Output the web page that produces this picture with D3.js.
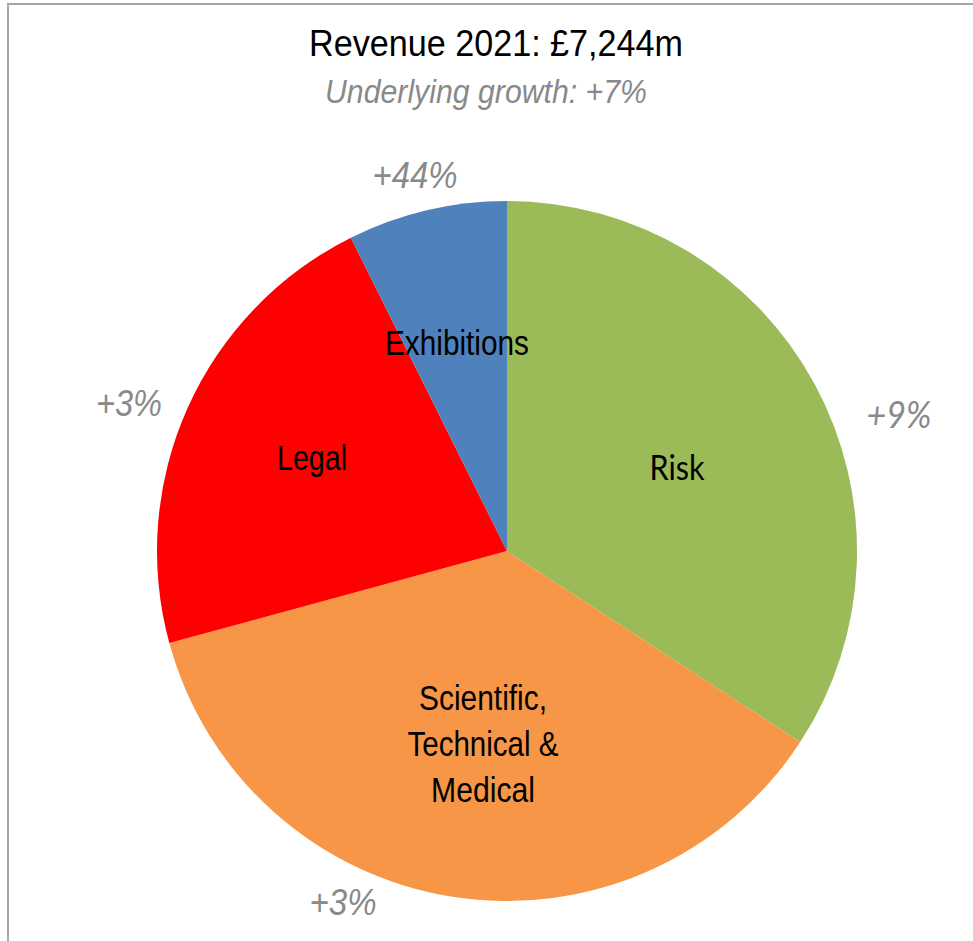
<!DOCTYPE html>
<html><head><meta charset="utf-8">
<script src="https://cdn.jsdelivr.net/npm/d3@7/dist/d3.min.js"></script>
<style>html,body{margin:0;padding:0;background:#fff;} svg{display:block;}</style>
</head><body>
<svg id="chart" width="973" height="941"></svg>
<script>
const categories = ["Risk", "Scientific, Technical & Medical", "Legal", "Exhibitions"];
const labelLines = [["Risk"], ["Scientific,", "Technical &", "Medical"], ["Legal"], ["Exhibitions"]];
const revenue = [2477, 2649, 1585, 533];
const growth = ["+9%", "+3%", "+3%", "+44%"];
const colors = ["#9BBB59", "#F79646", "#FF0000", "#4F81BD"];
const titleText = "Revenue 2021: £7,244m";
const subtitleText = "Underlying growth: +7%";

const W = 973, H = 941;
const cx = 507, cy = 551, R = 350;
const narrow = "'Liberation Sans','Arial',sans-serif";
const lato = "Lato,'Open Sans',sans-serif";
const grey = "#898989";

const svg = d3.select("#chart");
svg.append("rect").attr("x", 8).attr("y", 4).attr("width", W + 10).attr("height", H + 10)
  .attr("fill", "#fff").attr("stroke", "#A6A6A6").attr("stroke-width", 2);

// text helper: centred at x, baseline y, squeezed to the given width
function label(parent, x, y, str, opt) {
  return parent.append("text")
    .attr("x", x - opt.w / 2).attr("y", y)
    .attr("font-family", opt.font || narrow)
    .attr("font-size", opt.size)
    .attr("font-style", opt.italic ? "italic" : null)
    .attr("fill", opt.fill || "#000")
    .attr("textLength", opt.w)
    .attr("lengthAdjust", "spacingAndGlyphs")
    .text(str);
}

label(svg, 496, 56, titleText, {size: 37, w: 374});
label(svg, 486, 103, subtitleText, {size: 34, w: 322, italic: true, fill: grey});

const data = categories.map((c, i) => ({name: c, value: revenue[i], i}));
const pie = d3.pie().value(d => d.value).sort(null);
const arc = d3.arc().innerRadius(0).outerRadius(R);
const arcs = pie(data);

const g = svg.append("g").attr("transform", `translate(${cx},${cy})`);
g.selectAll("path").data(arcs).join("path")
  .attr("d", arc).attr("fill", d => colors[d.data.i]);

// inside category labels (centre x offset, first baseline offset, widths per line)
const inLayout = [
  {dx: 170, dy: -71, w: [55], font: lato},
  {dx: -24, dy: 159, w: [128, 151, 104]},
  {dx: -195, dy: -81, w: [70]},
  {dx: -50, dy: -196, w: [144]}
];
const lineH = 46;
arcs.forEach(a => {
  const i = a.data.i, L = inLayout[i];
  labelLines[i].forEach((ln, j) => {
    label(g, L.dx, L.dy + j * lineH, ln, {size: 35, w: L.w[j], font: L.font});
  });
});

// growth labels outside the pie
const outLayout = [
  {dx: 392, dy: -123, w: 65, font: lato, size: 37},
  {dx: -164, dy: 364, w: 67, size: 36},
  {dx: -378, dy: -135, w: 66, size: 36},
  {dx: -92, dy: -363, w: 85, size: 36}
];
arcs.forEach(a => {
  const i = a.data.i, L = outLayout[i];
  label(g, L.dx, L.dy, growth[i], {size: L.size, w: L.w, font: L.font, italic: true, fill: grey});
});
</script>
</body></html>
